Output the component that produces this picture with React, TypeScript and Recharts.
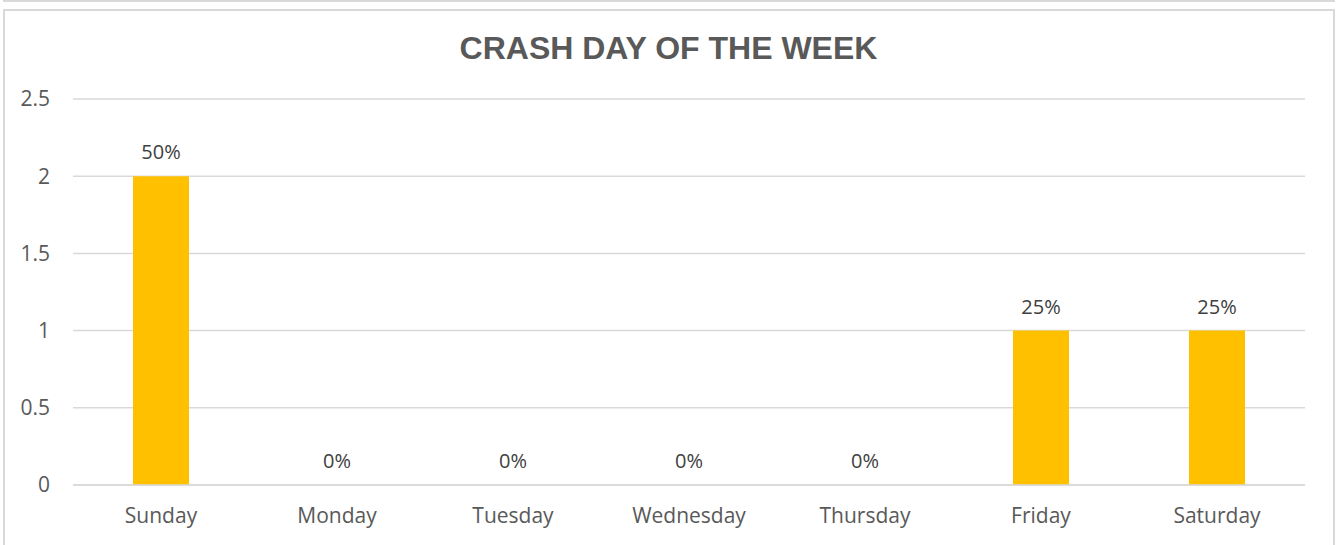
import React from "react";
import {
  ComposedChart,
  Bar,
  Line,
  XAxis,
  YAxis,
  CartesianGrid,
  LabelList,
} from "recharts";

const days = [
  "Sunday",
  "Monday",
  "Tuesday",
  "Wednesday",
  "Thursday",
  "Friday",
  "Saturday",
];
const crashCounts = [2, 0, 0, 0, 0, 1, 1];
const shareLabels = ["50%", "0%", "0%", "0%", "0%", "25%", "25%"];
const yTicks = [0, 0.5, 1, 1.5, 2, 2.5];

const data = days.map((day, i) => ({
  day,
  count: crashCounts[i],
  share: shareLabels[i],
}));

const tickFont = "'Open Sans', 'Noto Sans', sans-serif";

export default function App() {
  return (
    <div
      style={{
        position: "absolute",
        left: 0,
        top: 0,
        width: 1340,
        height: 545,
        background: "#fff",
        overflow: "hidden",
      }}
    >
      {/* edge of the chart above */}
      <div
        style={{
          position: "absolute",
          left: 3,
          top: -12,
          width: 1328,
          height: 10,
          border: "2px solid #d9d9d9",
        }}
      />
      {/* chart frame */}
      <div
        style={{
          position: "absolute",
          left: 3,
          top: 9,
          width: 1328,
          height: 600,
          border: "2px solid #d9d9d9",
        }}
      />
      <div
        style={{
          position: "absolute",
          left: 0,
          top: 32,
          width: 1337,
          textAlign: "center",
          fontFamily: "'Liberation Sans', Arial, sans-serif",
          fontWeight: "bold",
          fontSize: 32,
          lineHeight: "32px",
          color: "#595959",
        }}
      >
        CRASH DAY OF THE WEEK
      </div>
      <div style={{ position: "absolute", left: 0, top: 0 }}>
        <ComposedChart
          width={1340}
          height={545}
          data={data}
          margin={{ top: 99, right: 35, left: 0, bottom: 0 }}
          barCategoryGap="34%"
        >
          <CartesianGrid
            vertical={false}
            stroke="#d9d9d9"
            strokeWidth={1.5}
          />
          <XAxis
            dataKey="day"
            height={60}
            axisLine={{ stroke: "#d9d9d9", strokeWidth: 1.5 }}
            tickLine={false}
            tickSize={0}
            tickMargin={23}
            tick={{ fill: "#595959", fontSize: 21, fontFamily: tickFont }}
          />
          <YAxis
            width={73}
            domain={[0, 2.5]}
            ticks={yTicks}
            axisLine={false}
            tickLine={false}
            tickSize={0}
            tickMargin={23}
            tick={{ fill: "#595959", fontSize: 21, fontFamily: tickFont }}
          />
          <Bar dataKey="count" fill="#ffc000" barSize={56} isAnimationActive={false} />
          {/* labels only, so the 0% values show too */}
          <Line
            dataKey="count"
            stroke="none"
            dot={false}
            activeDot={false}
            legendType="none"
            isAnimationActive={false}
          >
            <LabelList
              dataKey="share"
              position="top"
              offset={17}
              fill="#404040"
              fontSize={20}
              fontFamily={tickFont}
            />
          </Line>
        </ComposedChart>
      </div>
    </div>
  );
}
